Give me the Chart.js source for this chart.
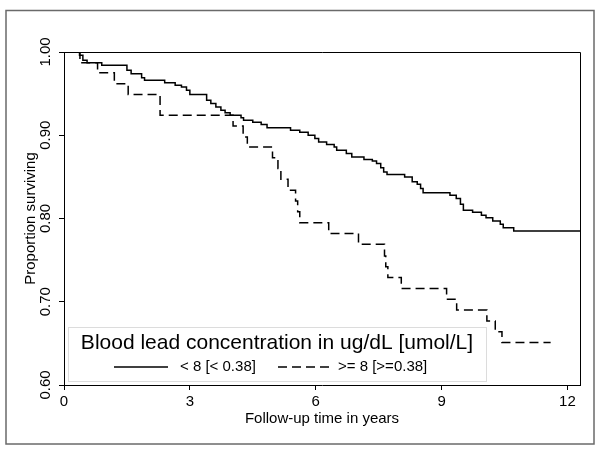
<!DOCTYPE html>
<html>
<head>
<meta charset="utf-8">
<title>Survival by blood lead concentration</title>
<script src="https://cdn.jsdelivr.net/npm/chart.js@4.4.1/dist/chart.umd.min.js"></script>
<style>
    html, body { margin: 0; padding: 0; background: #fff; }
    #wrap { width: 600px; height: 450px; }
</style>
</head>
<body>
<div id="wrap"><canvas id="survivalChart" width="600" height="450"></canvas></div>
<script>
// Kaplan-Meier estimates: time in years, proportion surviving
const lowLeadTimes = [0, 0.37, 0.45, 0.55, 0.9, 1.5, 1.6, 1.85, 1.92, 2.4, 2.65, 2.8, 2.92, 3.0,
    3.4, 3.5, 3.62, 3.74, 3.84, 3.96, 4.22, 4.28, 4.5, 4.7, 4.84, 5.4, 5.62, 5.82, 5.98, 6.07,
    6.26, 6.44, 6.5, 6.73, 6.86, 7.15, 7.35, 7.45, 7.55, 7.62, 7.7, 8.12, 8.3, 8.42, 8.5, 8.56,
    9.2, 9.35, 9.45, 9.52, 9.74, 9.95, 10.06, 10.22, 10.4, 10.47, 10.72, 12.3];
const lowLeadSurv = [1.00, 0.996, 0.990, 0.987, 0.984, 0.978, 0.974, 0.969, 0.966, 0.963, 0.960,
    0.958, 0.954, 0.949, 0.942, 0.938, 0.934, 0.930, 0.927, 0.924, 0.921, 0.918, 0.9155, 0.913,
    0.909, 0.906, 0.9035, 0.900, 0.896, 0.892, 0.889, 0.886, 0.882, 0.878, 0.874, 0.871, 0.869,
    0.866, 0.861, 0.856, 0.853, 0.850, 0.844, 0.841, 0.836, 0.831, 0.828, 0.824, 0.817, 0.810,
    0.8075, 0.804, 0.801, 0.797, 0.793, 0.789, 0.785, 0.785];

const highLeadTimes = [0, 0.38, 0.8, 1.2, 1.53, 2.29, 4.03, 4.27, 4.37, 4.97, 5.1, 5.17, 5.34,
    5.52, 5.57, 5.62, 6.31, 7.02, 7.64, 7.67, 7.72, 8.04, 9.12, 9.36, 10.08, 10.28, 10.44, 11.6];
const highLeadSurv = [1.00, 0.987, 0.975, 0.962, 0.949, 0.924, 0.911, 0.898, 0.886, 0.873, 0.860,
    0.847, 0.834, 0.821, 0.808, 0.795, 0.782, 0.769, 0.755, 0.742, 0.729, 0.716, 0.703, 0.690,
    0.677, 0.664, 0.651, 0.651];

const xTicks = [0, 3, 6, 9, 12];
const yTicks = [0.60, 0.70, 0.80, 0.90, 1.00];
const seriesLabels = ['< 8 [< 0.38]', '>= 8 [>=0.38]'];
const legendTitle = 'Blood lead concentration in ug/dL [umol/L]';

const FONT = '"Liberation Sans", Arial, Helvetica, sans-serif';
Chart.defaults.font.family = FONT;
Chart.defaults.color = '#000';

function toPoints(xs, ys) {
    return xs.map((t, i) => ({ x: t, y: ys[i] }));
}

// outer grey frame, plus the top and right sides of the plot box
const framePlugin = {
    id: 'frames',
    beforeDraw(chart) {
        const ctx = chart.ctx;
        ctx.save();
        ctx.fillStyle = '#fff';
        ctx.fillRect(0, 0, chart.width, chart.height);
        ctx.strokeStyle = '#6a6a6a';
        ctx.lineWidth = 1.5;
        ctx.strokeRect(6, 10.5, 588, 433.5);
        ctx.restore();
    },
    afterDatasetsDraw(chart) {
        const { ctx, chartArea: a } = chart;
        ctx.save();
        ctx.strokeStyle = '#000';
        ctx.lineWidth = 1;
        ctx.beginPath();
        ctx.moveTo(a.left, a.top + 0.5);
        ctx.lineTo(a.right + 0.5, a.top + 0.5);
        ctx.lineTo(a.right + 0.5, a.bottom);
        ctx.stroke();
        ctx.restore();
    }
};

// legend box drawn inside the plot, bottom left
const legendBoxPlugin = {
    id: 'legendBox',
    afterDraw(chart) {
        const { ctx, chartArea: a } = chart;
        const x = a.left + 4, w = 418, h = 54;
        const y = a.bottom - 4 - h;
        ctx.save();
        ctx.fillStyle = '#fff';
        ctx.fillRect(x, y, w, h);
        ctx.strokeStyle = '#dcdcdc';
        ctx.lineWidth = 1;
        ctx.strokeRect(x + 0.5, y + 0.5, w, h);

        ctx.fillStyle = '#000';
        ctx.font = '21px ' + FONT;
        ctx.textAlign = 'center';
        ctx.textBaseline = 'middle';
        ctx.fillText(legendTitle, x + w / 2, y + 16);

        const rowY = y + 40;
        const items = [
            { lineFrom: 46, lineTo: 100, textX: 112 },
            { lineFrom: 210, lineTo: 265, textX: 270 }
        ];
        ctx.font = '15px ' + FONT;
        ctx.textAlign = 'left';
        chart.data.datasets.forEach((ds, i) => {
            const it = items[i];
            ctx.strokeStyle = ds.borderColor;
            ctx.lineWidth = ds.borderWidth;
            ctx.setLineDash(ds.borderDash || []);
            ctx.beginPath();
            ctx.moveTo(x + it.lineFrom, rowY);
            ctx.lineTo(x + it.lineTo, rowY);
            ctx.stroke();
            ctx.setLineDash([]);
            ctx.fillText(ds.label, x + it.textX, rowY);
        });
        ctx.restore();
    }
};

const ctx = document.getElementById('survivalChart').getContext('2d');
const survivalChart = new Chart(ctx, {
    type: 'line',
    data: {
        datasets: [{
            label: seriesLabels[0],
            data: toPoints(lowLeadTimes, lowLeadSurv),
            borderColor: '#000',
            borderWidth: 1.5,
            stepped: true,
            pointRadius: 0,
            fill: false
        }, {
            label: seriesLabels[1],
            data: toPoints(highLeadTimes, highLeadSurv),
            borderColor: '#000',
            borderWidth: 1.5,
            borderDash: [9, 5],
            stepped: true,
            pointRadius: 0,
            fill: false
        }]
    },
    options: {
        responsive: false,
        animation: false,
        layout: { padding: { left: 0, right: 20, top: 52, bottom: 0 } },
        plugins: {
            legend: { display: false },
            tooltip: { enabled: false }
        },
        scales: {
            x: {
                type: 'linear',
                min: 0,
                max: 12.3,
                afterBuildTicks: s => { s.ticks = xTicks.map(v => ({ value: v })); },
                afterFit: s => { s.height = 65; },
                grid: { drawOnChartArea: false, drawTicks: true, tickLength: 5, color: '#000' },
                border: { display: true, color: '#000', width: 1 },
                ticks: { font: { size: 15 }, color: '#000', padding: 3, maxRotation: 0, autoSkip: false },
                title: {
                    display: true,
                    text: 'Follow-up time in years',
                    font: { size: 15 },
                    color: '#000',
                    padding: { top: 0, bottom: 22 }
                }
            },
            y: {
                type: 'linear',
                min: 0.6,
                max: 1.0,
                afterBuildTicks: s => { s.ticks = yTicks.map(v => ({ value: v })); },
                afterFit: s => { s.width = 64; },
                grid: { drawOnChartArea: false, drawTicks: true, tickLength: 5, color: '#000' },
                border: { display: true, color: '#000', width: 1 },
                ticks: {
                    font: { size: 15 },
                    color: '#000',
                    minRotation: 90,
                    maxRotation: 90,
                    crossAlign: 'center',
                    padding: -1,
                    autoSkip: false,
                    callback: v => Number(v).toFixed(2)
                },
                title: {
                    display: true,
                    text: 'Proportion surviving',
                    font: { size: 15 },
                    color: '#000',
                    padding: { top: 22, bottom: 0 }
                }
            }
        }
    },
    plugins: [framePlugin, legendBoxPlugin]
});
</script>
</body>
</html>
